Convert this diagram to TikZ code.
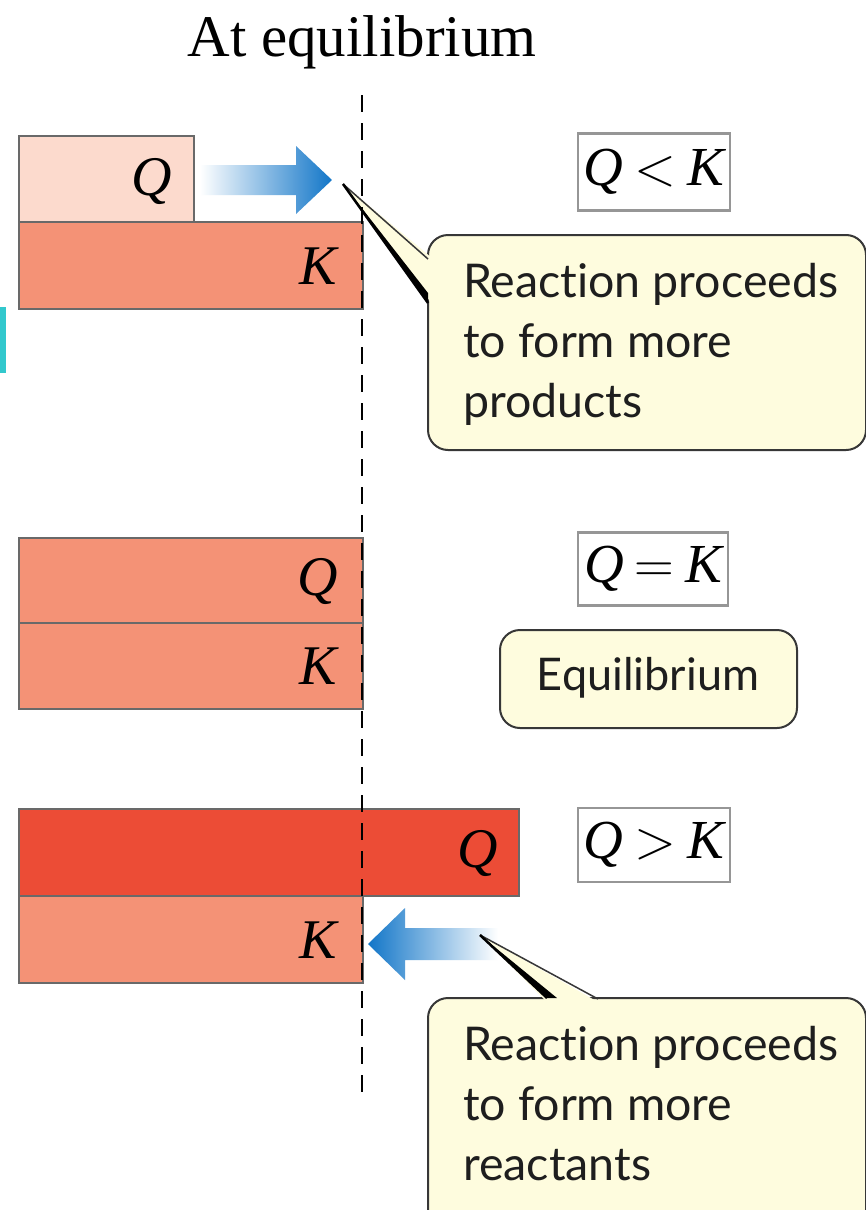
\documentclass[tikz,border=0pt]{standalone}
\usepackage{fontspec}
\newfontfamily\callfont[Ligatures={NoCommon}]{Lato}
\newfontfamily\qkfont{Liberation Serif}
\definecolor{salmon}{RGB}{244,146,118}
\definecolor{lightpink}{RGB}{252,218,205}
\definecolor{redbar}{RGB}{236,76,54}
\definecolor{bargray}{RGB}{105,105,105}
\definecolor{callfill}{RGB}{254,252,222}
\definecolor{callline}{RGB}{55,55,55}
\definecolor{calltextcol}{RGB}{30,30,30}
\definecolor{arrowblue}{RGB}{18,118,200}
\definecolor{boxgray}{RGB}{150,150,150}
\definecolor{cyanbar}{RGB}{50,200,205}
\newcommand{\qq}{{\qkfont\itshape Q}}
\newcommand{\kk}{{\qkfont\itshape K}}
\newcommand{\rel}[1]{\hspace{0.2em}#1\hspace{0.2em}}
\begin{document}
\begin{tikzpicture}[x=1pt,y=-1pt,
  bar/.style={draw=bargray,line width=1.5pt,anchor=north west,inner sep=0pt},
  lbl/.style={inner sep=0pt,font=\fontsize{56}{60}\selectfont},
  relbox/.style={draw=boxgray,line width=2.5pt,fill=white,inner sep=0pt,font=\fontsize{55}{60}\selectfont},
  bubble/.style={draw=callline,line width=2pt,fill=callfill,rounded corners=20pt},
  calltext/.style={inner sep=0pt,anchor=north west,align=left,text=calltextcol,font=\callfont\fontsize{46.5}{60}\selectfont}]
\useasboundingbox (0,0) rectangle (866,1210);
\fill[white] (0,0) rectangle (866,1210);
\fill[cyanbar] (0,307) rectangle (6,373);

% title
\node[inner sep=0pt,font=\qkfont\fontsize{59}{60}\selectfont] (title) at (362,42) {At equilibrium};

% top section
\node[bar,fill=lightpink,minimum width=175pt,minimum height=86pt] (q1) at (18,135) {};
\node[bar,fill=salmon,minimum width=344pt,minimum height=87pt] (k1) at (18,221) {};
\node[lbl] (q1l) at (152,181) {\qq};
\node[lbl] (k1l) at (318,266) {\kk};
\shade[left color=white,right color=arrowblue]
  (200,165) -- (296,165) -- (296,146) -- (332,180) -- (296,214) -- (296,195) -- (200,195) -- cycle;
\node[relbox,minimum width=152pt,minimum height=77pt] (r1) at (654,172) {\qq\rel{<}\kk};

% callout 1
\draw[bubble] (428,235) rectangle (866,450);
\coordinate (t1) at (343,184);
\fill[callfill] (t1) -- (432,258) -- (432,304) -- cycle;
\draw[callline,line width=1.5pt] (t1) -- (428,259);
\fill[black] (t1) -- (428,303) -- (428,293) -- cycle;
\draw[black,line width=2.5pt] (t1) -- (428,303);
\node[calltext] (c1) at (463,263) {Reaction proceeds\\to form more\\products};

% middle section
\node[bar,fill=salmon,minimum width=344pt,minimum height=85pt] (q2) at (18,537) {};
\node[bar,fill=salmon,minimum width=344pt,minimum height=86pt] (k2) at (18,622) {};
\node[lbl] (q2l) at (318,581) {\qq};
\node[lbl] (k2l) at (318,666) {\kk};
\node[relbox,minimum width=150pt,minimum height=73pt] (r2) at (653,569) {\qq\rel{=}\kk};
\draw[bubble] (500,630) rectangle (797,728);
\node[inner sep=0pt,text=calltextcol,font=\callfont\fontsize{45}{60}\selectfont] (eq) at (648,678) {Equilibrium};

% bottom section
\node[bar,fill=redbar,minimum width=500pt,minimum height=87pt] (q3) at (18,808) {};
\node[bar,fill=salmon,minimum width=344pt,minimum height=87pt] (k3) at (18,895) {};
\node[lbl] (q3l) at (478,853) {\qq};
\node[lbl] (k3l) at (318,940) {\kk};
\shade[left color=arrowblue,right color=white]
  (498,928) -- (405,928) -- (405,908) -- (368,944) -- (405,980) -- (405,960) -- (498,960) -- cycle;
\node[relbox,minimum width=152pt,minimum height=74pt] (r3) at (654,845) {\qq\rel{>}\kk};

% callout 2
\draw[bubble] (428,998) rectangle (866,1230);
\coordinate (t2) at (480,935);
\fill[callfill] (t2) -- (547,1002) -- (598,1002) -- cycle;
\draw[callline,line width=1.5pt] (t2) -- (598,999);
\fill[black] (t2) -- (547,998) -- (557,998) -- cycle;
\draw[black,line width=2.5pt] (t2) -- (547,998);
\node[calltext] (c2) at (463,1026) {Reaction proceeds\\to form more\\reactants};

% dashed equilibrium line
\draw[black,line width=2.3pt,dash pattern=on 17pt off 11pt] (362,95) -- (362,1095);
\end{tikzpicture}
\end{document}
